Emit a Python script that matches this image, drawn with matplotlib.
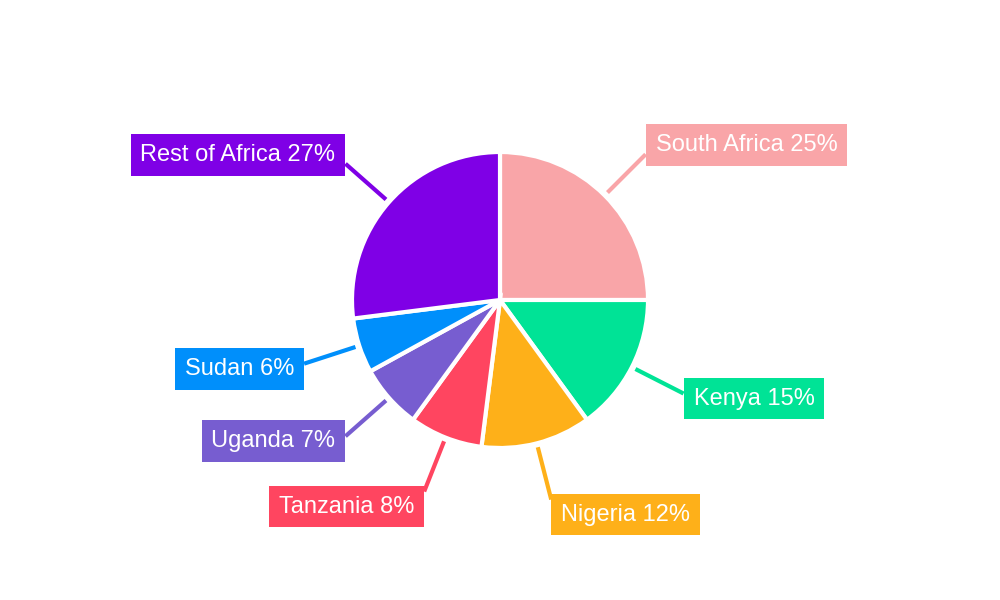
import numpy as np
import matplotlib.pyplot as plt

labels = ["South Africa", "Kenya", "Nigeria", "Tanzania", "Uganda", "Sudan", "Rest of Africa"]
shares = [25, 15, 12, 8, 7, 6, 27]
colors = ["#F9A5A8", "#00E396", "#FEB019", "#FF4560", "#775DD0", "#008FFB", "#7F00E6"]

plt.rcParams['font.family'] = ['Liberation Sans', 'DejaVu Sans']

fig = plt.figure(figsize=(10, 6), dpi=100)
ax = fig.add_axes([0, 0, 1, 1])
ax.set_xlim(0, 1000)
ax.set_ylim(0, 600)
ax.set_aspect('equal')
ax.axis('off')

cx, cy, R = 500, 300, 148
ax.pie(shares, colors=colors, startangle=90, counterclock=False,
       center=(cx, cy), radius=R,
       wedgeprops=dict(edgecolor='white', linewidth=3))
ax.set_xlim(0, 1000)
ax.set_ylim(0, 600)

total = float(sum(shares))
cum = 0.0
pad = 10
for lab, v, c in zip(labels, shares, colors):
    mid = (cum + v / 2.0) / total * 2 * np.pi
    cum += v
    dx, dy = np.sin(mid), np.cos(mid)
    x0, y0 = cx + dx * (R + 4), cy + dy * (R + 4)
    x1, y1 = cx + dx * 206, cy + dy * 206
    ax.plot([x0, x1], [y0, y1], color=c, lw=3, solid_capstyle='butt')
    ha = 'left' if dx > 0 else 'right'
    tx = x1 + pad if dx > 0 else x1 - pad
    if dy < -0.9:
        va, ty = 'top', y1 - pad + 6
    else:
        va, ty = 'center', y1 + (9 if dy > 0 else -5)
    ax.text(tx, ty, "%s %d%%" % (lab, v), ha=ha, va=va, fontsize=17, color='white',
            bbox=dict(boxstyle='square,pad=0.42', fc=c, ec='none'))

fig.savefig('out.png', dpi=100)
